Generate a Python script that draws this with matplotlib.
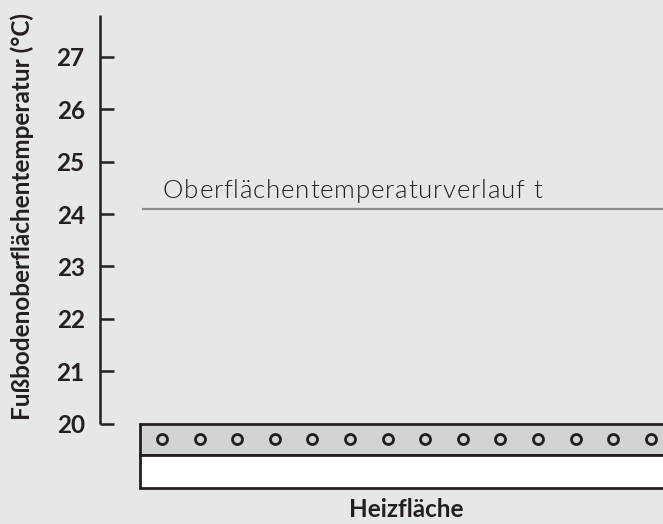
import matplotlib
matplotlib.use("Agg")
import matplotlib.pyplot as plt
import numpy as np
from matplotlib.patches import Rectangle

# ---- data ----
y_ticks = [20, 21, 22, 23, 24, 25, 26, 27]
y_tick_labels = ["20", "21", "22", "23", "24", "25", "26", "27"]
surface_temp = 24.1
surface_label = "Oberflächentemperaturverlauf t"
y_label = "Fußbodenoberflächentemperatur (°C)"
x_label = "Heizfläche"
pipe_count = 14

# ---- style ----
W, H, DPI = 663, 524, 100
bg = "#e6e7e8"
dark = "#231f20"
slab_gray = "#d1d3d4"
line_gray = "#8c8c8c"
font = "Lato"

px_per_deg = 52.36
y20_px = 423.5
ymax = 20 + y20_px / px_per_deg
ymin = 20 - (H - y20_px) / px_per_deg

fig = plt.figure(figsize=(W / DPI, H / DPI), dpi=DPI, facecolor=bg)
ax_left = 100
ax = fig.add_axes([ax_left / W, 0, (W - ax_left) / W, 1])
ax.set_facecolor("none")
ax.set_xlim(0, W - ax_left)
ax.set_ylim(ymin, ymax)

for s in ["top", "right", "bottom"]:
    ax.spines[s].set_visible(False)
ax.spines["left"].set_linewidth(1.8)
ax.spines["left"].set_color(dark)
ax.spines["left"].set_bounds(20, 20 + (y20_px - 15) / px_per_deg)
ax.spines["left"].set_capstyle("butt")

ax.set_xticks([])
ax.set_yticks(y_ticks)
ax.set_yticklabels(y_tick_labels, fontfamily=font, fontweight="bold",
                   fontsize=17.5, color=dark)
ax.tick_params(axis="y", direction="in", length=10, width=1.8,
               color=dark, pad=11)

# surface temperature line
ax.plot([42, W - ax_left], [surface_temp, surface_temp], color=line_gray,
        lw=1.6, solid_capstyle="butt")

# letter-spaced label
fig.canvas.draw()
renderer = fig.canvas.get_renderer()
lab_kw = dict(fontfamily=font, fontweight=300, fontsize=18.5, color="#231f20")


def text_width(s):
    t = fig.text(0, 0, s, **lab_kw)
    w = t.get_window_extent(renderer).width
    t.remove()
    return w


bar_w = text_width("|")
target_w = 379.0
nat_w = text_width(surface_label)
track = (target_w - nat_w) / (len(surface_label) - 1)
x0_px = 163
base_y = 20 + (y20_px - 198) / px_per_deg
for i, ch in enumerate(surface_label):
    off = (text_width(surface_label[:i] + "|") - bar_w) if i else 0.0
    xpx = x0_px + off + i * track
    ax.text(xpx - ax_left, base_y, ch, va="baseline", ha="left", **lab_kw)

# heating slab
slab_x0 = 40
slab_top = 20.0
slab_mid = 20 - 31.5 / px_per_deg
slab_bot = 20 - 64.5 / px_per_deg
slab_w = W - ax_left - slab_x0 + 20
ax.add_patch(Rectangle((slab_x0, slab_mid), slab_w, slab_top - slab_mid,
                       facecolor=slab_gray, edgecolor=dark, lw=2.0,
                       clip_on=False))
ax.add_patch(Rectangle((slab_x0, slab_bot), slab_w, slab_mid - slab_bot,
                       facecolor="white", edgecolor=dark, lw=2.0,
                       clip_on=False))
spacing = 37.6
pipe_x = slab_x0 + 22 + spacing * np.arange(pipe_count)
ax.plot(pipe_x, np.full(pipe_count, (slab_top + slab_mid) / 2), "o",
        ms=7.2, mfc=slab_gray, mec=dark, mew=2.0, ls="none")

fig.text(406 / W, 1 - 517 / H, x_label, fontfamily=font, fontweight="bold",
         fontsize=17.5, color=dark, ha="center", va="baseline")
fig.text(22 / W, 1 - 216 / H, y_label, fontfamily=font, fontweight="bold",
         fontsize=17.5, color=dark, ha="center", va="center", rotation=90)

fig.savefig("out.png", dpi=DPI, facecolor=bg)
